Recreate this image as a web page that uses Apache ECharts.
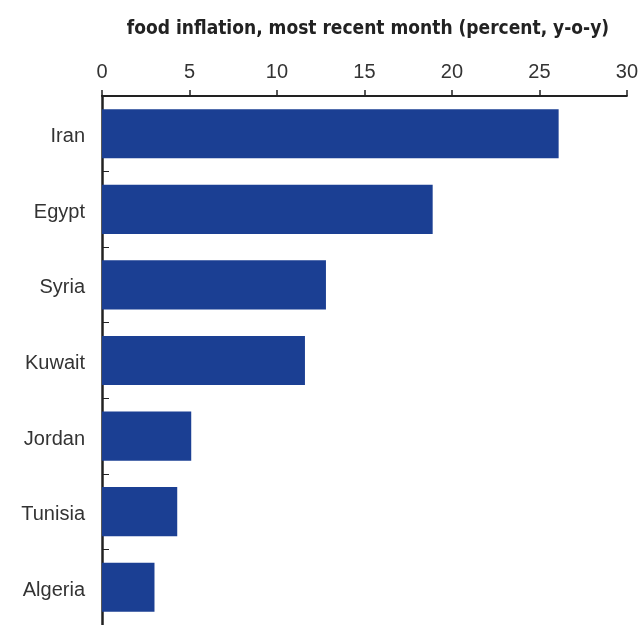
<!DOCTYPE html>
<html>
<head>
<meta charset="utf-8">
<script src="https://cdn.jsdelivr.net/npm/echarts@6/dist/echarts.min.js"></script>
<style>
  html, body { margin: 0; padding: 0; background: #fff; }
  #chart { width: 641px; height: 625px; }
</style>
</head>
<body>
<div id="chart"></div>
<script>
// countries, top to bottom
const countries = ['Iran', 'Egypt', 'Syria', 'Kuwait', 'Jordan', 'Tunisia', 'Algeria']
// food inflation, percent y-o-y
const inflation = [26.1, 18.9, 12.8, 11.6, 5.1, 4.3, 3.0]

const chart = echarts.init(document.getElementById('chart'))

const option = {
  animation: false,
  backgroundColor: '#fff',
  title: {
    text: 'food inflation, most recent month (percent, y-o-y)',
    left: 363,
    textAlign: 'center',
    top: 15,
    textStyle: {
      fontFamily: '"DejaVu Sans Condensed", "Liberation Sans Narrow", sans-serif',
      fontWeight: 'bold',
      fontSize: 19,
      color: '#222'
    }
  },
  grid: {
    left: 102,
    right: 12,
    top: 96,
    bottom: -3,
    containLabel: false
  },
  xAxis: {
    type: 'value',
    position: 'top',
    min: 0,
    max: 30,
    interval: 5,
    splitLine: { show: false },
    axisLine: { show: true, lineStyle: { color: '#222', width: 2 } },
    axisTick: { show: true, length: 6, lineStyle: { color: '#222', width: 1.5 } },
    axisLabel: {
      margin: 14,
      fontFamily: 'Liberation Sans',
      fontSize: 20,
      color: '#333'
    }
  },
  yAxis: {
    type: 'category',
    inverse: true,
    data: countries,
    axisLine: { show: true, lineStyle: { color: '#222', width: 2.5 } },
    axisTick: { show: true, inside: true, length: 7, lineStyle: { color: '#222', width: 1 } },
    axisLabel: {
      margin: 17,
      fontFamily: 'Liberation Sans',
      fontSize: 20,
      color: '#333',
      verticalAlign: 'top',
      lineHeight: 6
    }
  },
  series: [
    {
      type: 'bar',
      data: inflation,
      barCategoryGap: '35%',
      itemStyle: { color: '#1b3f93' }
    }
  ]
}

chart.setOption(option)
</script>
</body>
</html>
